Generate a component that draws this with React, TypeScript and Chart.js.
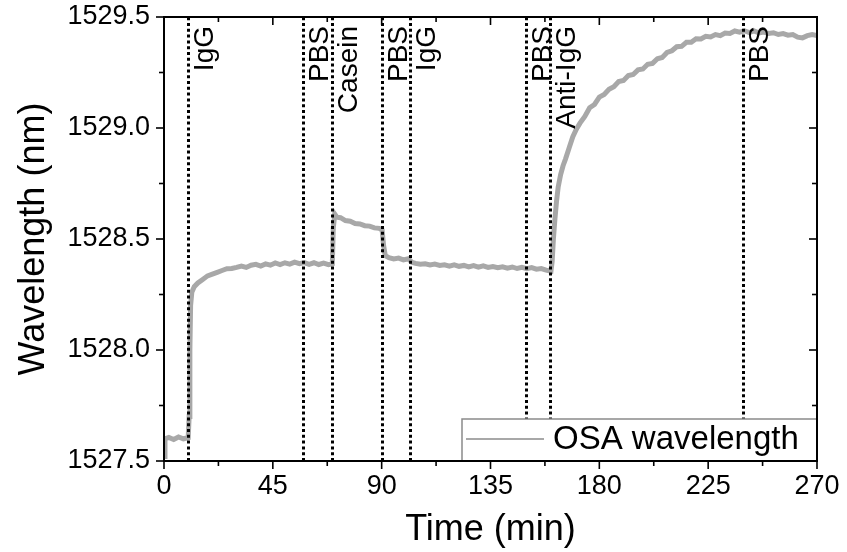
import React, { useEffect, useRef } from "react";
import { Chart, registerables } from "chart.js";

Chart.register(...registerables);

const TIMES = [
  0, 0.4, 2, 4, 6, 8, 10, 10.4, 10.7, 11.0, 11.5, 12.5, 14, 16, 18, 20, 22, 24, 26, 28, 30, 32, 34, 36, 38, 40,
  42, 44, 46, 48, 50, 52, 54, 56, 58, 60, 62, 64, 66, 68, 69.6, 70.0, 70.6, 71.5, 73, 75, 77, 79, 81, 83, 85,
  87, 89, 90.2, 90.8, 91.5, 93, 95, 97, 99, 101, 102.5, 104, 106, 108, 110, 112, 114, 116, 118, 120, 122, 124,
  126, 128, 130, 132, 134, 136, 138, 140, 142, 144, 146, 148, 150, 152, 154, 156, 158, 160, 160.5, 161, 161.6,
  162.3, 163, 164, 165, 166, 167.5, 169, 170.5, 172, 174, 176, 178, 180, 182, 184, 186, 188, 190, 192, 194, 196,
  198, 200, 202, 204, 206, 208, 210, 212, 214, 216, 218, 220, 222, 224, 226, 228, 230, 232, 234, 236, 238, 240,
  242, 244, 246, 248, 250, 252, 254, 256, 258, 260, 262, 264, 266, 268, 270,
];

const WAVELENGTH = [
  1527.52, 1527.6, 1527.606, 1527.597, 1527.608, 1527.6, 1527.605, 1527.7, 1528.0, 1528.2, 1528.26, 1528.285,
  1528.302, 1528.318, 1528.334, 1528.342, 1528.35, 1528.358, 1528.366, 1528.367, 1528.372, 1528.378, 1528.372,
  1528.382, 1528.386, 1528.378, 1528.388, 1528.382, 1528.392, 1528.385, 1528.393, 1528.387, 1528.396, 1528.389,
  1528.394, 1528.386, 1528.393, 1528.385, 1528.391, 1528.384, 1528.388, 1528.55, 1528.612, 1528.598, 1528.596,
  1528.583, 1528.58, 1528.57, 1528.568, 1528.56, 1528.558, 1528.55, 1528.548, 1528.54, 1528.47, 1528.425,
  1528.416, 1528.41, 1528.414, 1528.406, 1528.411, 1528.395, 1528.39, 1528.386, 1528.388, 1528.383, 1528.387,
  1528.381, 1528.384, 1528.378, 1528.384, 1528.377, 1528.381, 1528.374, 1528.38, 1528.373, 1528.379, 1528.372,
  1528.376, 1528.371, 1528.375, 1528.369, 1528.374, 1528.367, 1528.372, 1528.366, 1528.371, 1528.364, 1528.367,
  1528.36, 1528.355, 1528.4, 1528.5, 1528.585, 1528.67, 1528.735, 1528.79, 1528.83, 1528.86, 1528.91, 1528.96,
  1528.995, 1529.022, 1529.052, 1529.091, 1529.106, 1529.139, 1529.151, 1529.174, 1529.186, 1529.209, 1529.214,
  1529.236, 1529.241, 1529.262, 1529.266, 1529.287, 1529.291, 1529.312, 1529.318, 1529.34, 1529.348, 1529.366,
  1529.368, 1529.386, 1529.386, 1529.402, 1529.401, 1529.413, 1529.41, 1529.421, 1529.416, 1529.428, 1529.426,
  1529.437, 1529.432, 1529.438, 1529.43, 1529.437, 1529.428, 1529.432, 1529.426, 1529.429, 1529.421, 1529.425,
  1529.418, 1529.421, 1529.409, 1529.406, 1529.416, 1529.421, 1529.417,
];

const EVENT_TIMES = [10, 57.6, 69.4, 90, 101.7, 149.6, 159.8, 239.3];
const EVENT_LABELS = ["IgG", "PBS", "Casein", "PBS", "IgG", "PBS", "Anti-IgG", "PBS"];

const X_TICKS = [0, 45, 90, 135, 180, 225, 270];
const X_MINOR = [22.5, 67.5, 112.5, 157.5, 202.5, 247.5];
const Y_TICKS = [1527.5, 1528.0, 1528.5, 1529.0, 1529.5];
const Y_MINOR = [1527.75, 1528.25, 1528.75, 1529.25];

const SERIES_LABEL = "OSA wavelength";
const FONT = '"Liberation Sans", Arial, sans-serif';

const decorPlugin = {
  id: "decor",
  afterDatasetsDraw(chart: any) {
    const { ctx, chartArea: a, scales } = chart;
    const xs = scales.x;
    const ys = scales.y;
    ctx.save();

    // event dotted lines
    ctx.strokeStyle = "#000";
    ctx.lineWidth = 3;
    ctx.setLineDash([3, 2.8]);
    EVENT_TIMES.forEach((t) => {
      const px = Math.round(xs.getPixelForValue(t)) + 0.5;
      ctx.beginPath();
      ctx.moveTo(px, a.bottom);
      ctx.lineTo(px, a.top);
      ctx.stroke();
    });
    ctx.setLineDash([]);

    // event labels
    ctx.fillStyle = "#000";
    ctx.font = `28px ${FONT}`;
    ctx.textAlign = "right";
    ctx.textBaseline = "alphabetic";
    EVENT_TIMES.forEach((t, i) => {
      const px = xs.getPixelForValue(t);
      ctx.save();
      ctx.translate(px + 25, a.top + 9);
      ctx.rotate(-Math.PI / 2);
      ctx.fillText(EVENT_LABELS[i], 0, 0);
      ctx.restore();
    });

    // legend
    const lx0 = 462, ly0 = 419;
    const lw = a.right - lx0, lh = a.bottom - ly0;
    ctx.fillStyle = "#fff";
    ctx.fillRect(lx0, ly0, lw, lh);
    ctx.strokeStyle = "#8a8a8a";
    ctx.lineWidth = 1.5;
    ctx.strokeRect(lx0, ly0, lw, lh);
    ctx.strokeStyle = "#a8a8a8";
    ctx.lineWidth = 2;
    ctx.beginPath();
    ctx.moveTo(lx0 + 4, ly0 + 20);
    ctx.lineTo(lx0 + 82, ly0 + 20);
    ctx.stroke();
    ctx.fillStyle = "#000";
    ctx.font = `33px ${FONT}`;
    ctx.textAlign = "left";
    ctx.textBaseline = "middle";
    ctx.fillText(SERIES_LABEL, lx0 + 91, ly0 + 21);

    // frame
    ctx.strokeStyle = "#000";
    ctx.lineWidth = 2;
    ctx.strokeRect(a.left, a.top, a.right - a.left, a.bottom - a.top);

    // ticks
    ctx.lineWidth = 1.6;
    const tick = (x1: number, y1: number, x2: number, y2: number) => {
      ctx.beginPath();
      ctx.moveTo(x1, y1);
      ctx.lineTo(x2, y2);
      ctx.stroke();
    };
    X_TICKS.forEach((v) => {
      const px = xs.getPixelForValue(v);
      tick(px, a.bottom, px, a.bottom + 8);
      tick(px, a.top, px, a.top + 8);
    });
    X_MINOR.forEach((v) => {
      const px = xs.getPixelForValue(v);
      tick(px, a.bottom, px, a.bottom + 5);
      tick(px, a.top, px, a.top + 5);
    });
    Y_TICKS.forEach((v) => {
      const py = ys.getPixelForValue(v);
      tick(a.left, py, a.left - 8, py);
      tick(a.right, py, a.right - 8, py);
    });
    Y_MINOR.forEach((v) => {
      const py = ys.getPixelForValue(v);
      tick(a.left, py, a.left - 5, py);
      tick(a.right, py, a.right - 5, py);
    });
    ctx.restore();
  },
};

export default function App() {
  const ref = useRef<HTMLCanvasElement | null>(null);
  useEffect(() => {
    document.body.style.margin = "0";
    const canvas = ref.current!;
    const chart = new Chart(canvas, {
      type: "line",
      data: {
        datasets: [
          {
            label: SERIES_LABEL,
            data: TIMES.map((t, i) => ({ x: t, y: WAVELENGTH[i] })),
            borderColor: "#a8a8a8",
            borderWidth: 5,
            pointRadius: 0,
            tension: 0,
            fill: false,
          },
        ],
      },
      options: {
        responsive: false,
        animation: false,
        layout: { padding: { top: 17, right: 30, left: 0, bottom: 0 } },
        plugins: { legend: { display: false }, tooltip: { enabled: false } },
        scales: {
          x: {
            type: "linear",
            min: 0,
            max: 270,
            afterBuildTicks: (s: any) => {
              s.ticks = X_TICKS.map((v) => ({ value: v }));
            },
            afterFit: (s: any) => {
              s.height = 91;
              s.paddingLeft = 0;
              s.paddingRight = 0;
            },
            grid: { display: true, drawOnChartArea: false, drawTicks: false },
            border: { display: false },
            ticks: {
              padding: 9,
              maxRotation: 0,
              autoSkip: false,
              color: "#000",
              font: { family: FONT, size: 27 },
              callback: (v: any) => String(v),
            },
            title: {
              display: true,
              text: "Time (min)",
              color: "#000",
              font: { family: FONT, size: 36 },
              padding: { top: 3, bottom: 0 },
            },
          },
          y: {
            type: "linear",
            min: 1527.5,
            max: 1529.5,
            afterBuildTicks: (s: any) => {
              s.ticks = Y_TICKS.map((v) => ({ value: v }));
            },
            afterFit: (s: any) => {
              s.width = 164;
              s.paddingTop = 0;
              s.paddingBottom = 0;
            },
            grid: { display: true, drawOnChartArea: false, drawTicks: false },
            border: { display: false },
            ticks: {
              padding: 14,
              autoSkip: false,
              color: "#000",
              font: { family: FONT, size: 27 },
              callback: (v: any) => Number(v).toFixed(1),
            },
            title: {
              display: true,
              text: "Wavelength (nm)",
              color: "#000",
              font: { family: FONT, size: 36 },
              padding: { top: 12, bottom: 0 },
            },
          },
        },
      },
      plugins: [decorPlugin],
    });
    return () => chart.destroy();
  }, []);
  return (
    <div style={{ width: 847, height: 552, background: "#fff" }}>
      <canvas ref={ref} width={847} height={552} style={{ display: "block" }} />
    </div>
  );
}
